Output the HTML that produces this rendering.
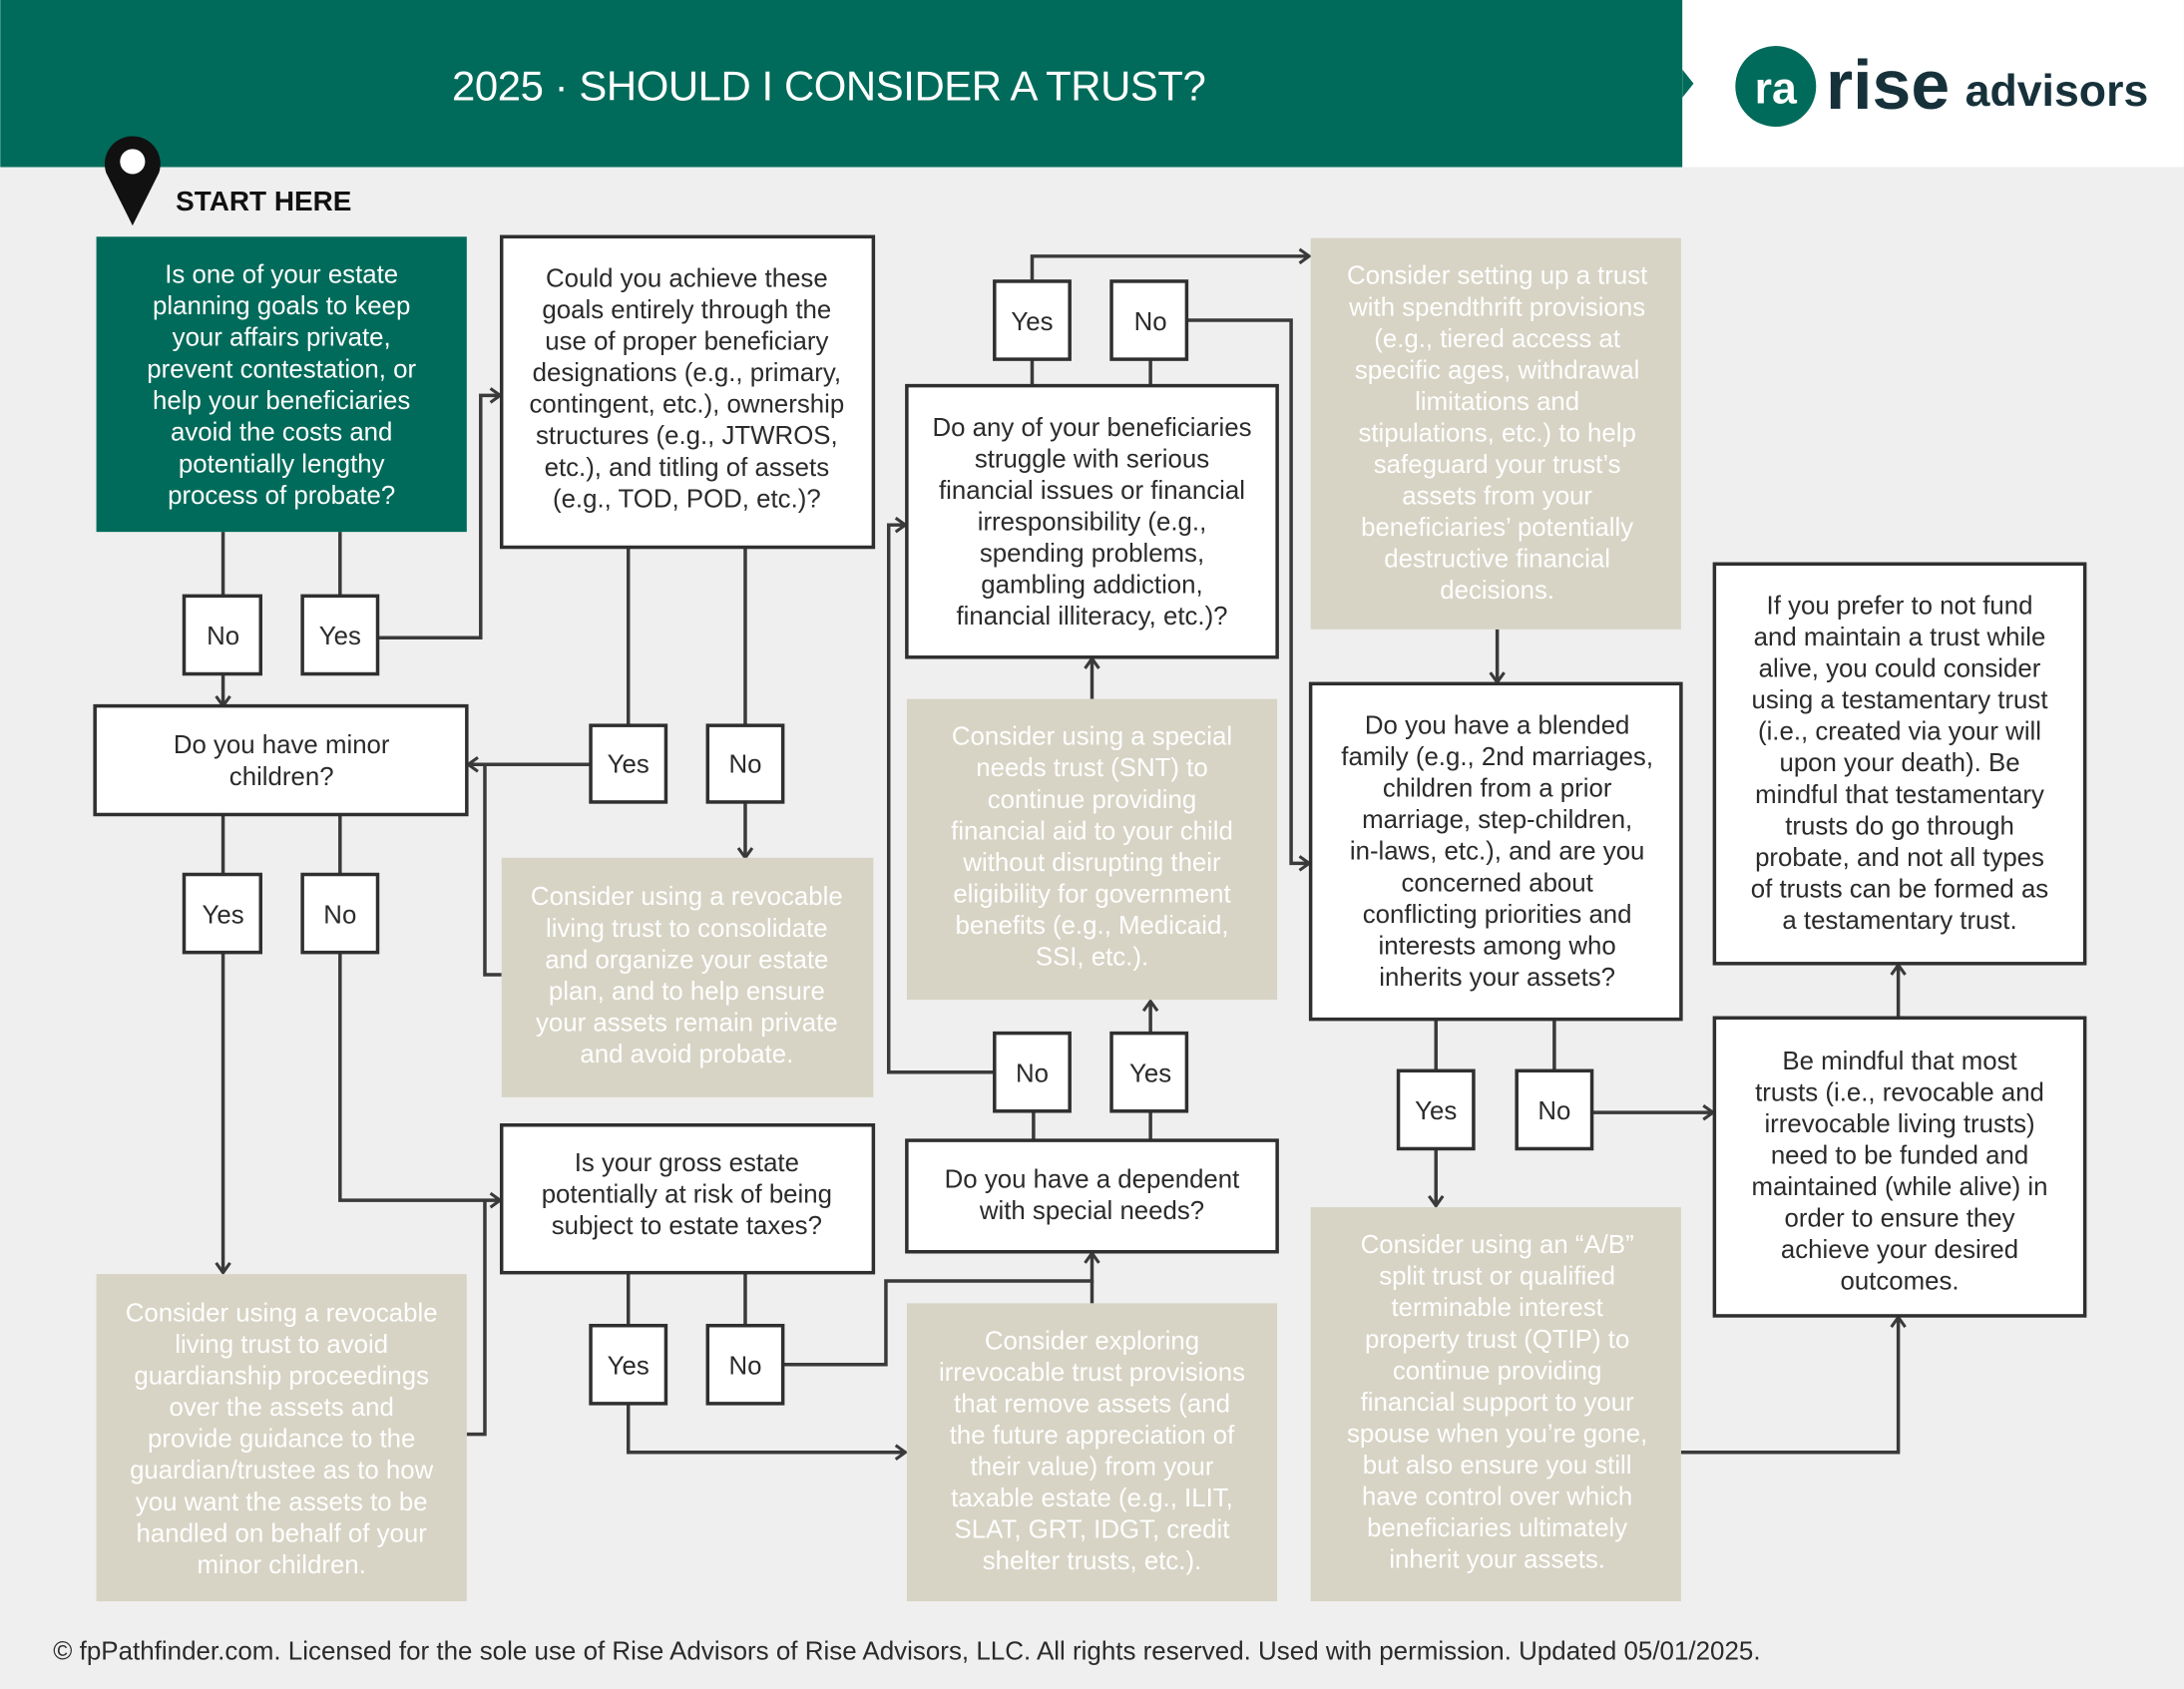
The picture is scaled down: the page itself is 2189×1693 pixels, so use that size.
<!DOCTYPE html>
<html><head><meta charset="utf-8"><style>
html,body{margin:0;padding:0;background:#efefef}
svg{display:block}
text{font-family:"Liberation Sans",sans-serif}
.t{font-size:18.5px;fill:#2b2b2b;text-anchor:middle}
.w{font-size:18.5px;fill:#fff;text-anchor:middle}
.b{fill:#fff;stroke:#2f2f2f;stroke-width:2.5}
.g{fill:#d7d4c5}
.l{fill:none;stroke:#3a3a3a;stroke-width:2.5}
</style></head><body>
<svg width="2189" height="1693" viewBox="0 0 1568 1213" xmlns="http://www.w3.org/2000/svg">
<defs><marker id="a" markerWidth="10" markerHeight="12" refX="8" refY="6" orient="auto" markerUnits="userSpaceOnUse"><path d="M1,1 L8,6 L1,11" fill="none" stroke="#3a3a3a" stroke-width="2.2"/></marker></defs>
<rect width="1568" height="1213" fill="#efefef"/>
<rect width="1208" height="120" fill="#006b5a"/>
<rect x="1208" width="360" height="120" fill="#fff"/>
<path d="M1208,50 L1216,60 L1208,70Z" fill="#006b5a"/>
<text x="595" y="72" style="font-size:30px;fill:#fff;text-anchor:middle;font-weight:normal;letter-spacing:-0.3px">2025 · SHOULD I CONSIDER A TRUST?</text>
<circle cx="1275" cy="62" r="29" fill="#006b5a"/>
<text x="1275" y="74" style="font-size:32px;fill:#fff;text-anchor:middle;font-weight:bold">ra</text>
<text x="1311" y="78" style="font-size:50px;fill:#17313a;font-weight:bold">rise</text>
<text x="1411" y="76" style="font-size:32px;fill:#17313a;font-weight:bold">advisors</text>
<path d="M95,162 L76,124 A20,20 0 1 1 114,124 Z" fill="#111"/><circle cx="95" cy="116" r="9" fill="#fff"/>
<text x="126" y="151" style="font-size:20px;font-weight:bold;fill:#111">START HERE</text>

<g class="l">
<path d="M160,382V428M244,382V428"/>
<path d="M160,484V507" marker-end="url(#a)"/>
<path d="M271,458H345V284H359" marker-end="url(#a)"/>
<path d="M160,585V628M244,585V628"/>
<path d="M160,684V914" marker-end="url(#a)"/>
<path d="M244,684V862H359" marker-end="url(#a)"/>
<path d="M451,393V521M535,393V521"/>
<path d="M424,549H336" marker-end="url(#a)"/>
<path d="M535,576V616" marker-end="url(#a)"/>
<path d="M360,700H348V549M335,1030H348V862"/>
<path d="M451,914V952M535,914V952"/>
<path d="M451,1008V1043H650" marker-end="url(#a)"/>
<path d="M562,980H636V920H784V900" marker-end="url(#a)"/>
<path d="M784,936V920"/>
<path d="M742,819V798M826,819V798"/>
<path d="M714,770H638V377H650" marker-end="url(#a)"/>
<path d="M826,742V719" marker-end="url(#a)"/>
<path d="M784,502V473" marker-end="url(#a)"/>
<path d="M741,277V258M826,277V258"/>
<path d="M741,202V184H940" marker-end="url(#a)"/>
<path d="M852,230H927V620H940" marker-end="url(#a)"/>
<path d="M1075,452V490" marker-end="url(#a)"/>
<path d="M1031,732V769M1116,732V769"/>
<path d="M1031,825V866" marker-end="url(#a)"/>
<path d="M1143,799H1230" marker-end="url(#a)"/>
<path d="M1207,1043H1363V946" marker-end="url(#a)"/>
<path d="M1363,731V693" marker-end="url(#a)"/>
</g>

<rect x="69" y="170" width="266" height="212" fill="#006b5a"/>
<text class="w"><tspan x="202" y="203">Is one of your estate</tspan><tspan x="202" dy="22.7">planning goals to keep</tspan><tspan x="202" dy="22.7">your affairs private,</tspan><tspan x="202" dy="22.7">prevent contestation, or</tspan><tspan x="202" dy="22.7">help your beneficiaries</tspan><tspan x="202" dy="22.7">avoid the costs and</tspan><tspan x="202" dy="22.7">potentially lengthy</tspan><tspan x="202" dy="22.7">process of probate?</tspan></text>

<g>
<rect class="b" x="132" y="428" width="55" height="56"/><text class="t" x="160" y="463">No</text>
<rect class="b" x="217" y="428" width="54" height="56"/><text class="t" x="244" y="463">Yes</text>
<rect class="b" x="68" y="507" width="267" height="78"/>
<text class="t"><tspan x="202" y="541">Do you have minor</tspan><tspan x="202" dy="22.7">children?</tspan></text>
<rect class="b" x="132" y="628" width="55" height="56"/><text class="t" x="160" y="663">Yes</text>
<rect class="b" x="217" y="628" width="54" height="56"/><text class="t" x="244" y="663">No</text>
<rect class="g" x="69" y="915" width="266" height="235"/>
<text class="w"><tspan x="202" y="949">Consider using a revocable</tspan><tspan x="202" dy="22.6">living trust to avoid</tspan><tspan x="202" dy="22.6">guardianship proceedings</tspan><tspan x="202" dy="22.6">over the assets and</tspan><tspan x="202" dy="22.6">provide guidance to the</tspan><tspan x="202" dy="22.6">guardian/trustee as to how</tspan><tspan x="202" dy="22.6">you want the assets to be</tspan><tspan x="202" dy="22.6">handled on behalf of your</tspan><tspan x="202" dy="22.6">minor children.</tspan></text>

<rect class="b" x="360" y="170" width="267" height="223"/>
<text class="t"><tspan x="493" y="206">Could you achieve these</tspan><tspan x="493" dy="22.6">goals entirely through the</tspan><tspan x="493" dy="22.6">use of proper beneficiary</tspan><tspan x="493" dy="22.6">designations (e.g., primary,</tspan><tspan x="493" dy="22.6">contingent, etc.), ownership</tspan><tspan x="493" dy="22.6">structures (e.g., JTWROS,</tspan><tspan x="493" dy="22.6">etc.), and titling of assets</tspan><tspan x="493" dy="22.6">(e.g., TOD, POD, etc.)?</tspan></text>
<rect class="b" x="424" y="521" width="54" height="55"/><text class="t" x="451" y="555">Yes</text>
<rect class="b" x="508" y="521" width="54" height="55"/><text class="t" x="535" y="555">No</text>
<rect class="g" x="360" y="616" width="267" height="172"/>
<text class="w"><tspan x="493" y="650">Consider using a revocable</tspan><tspan x="493" dy="22.6">living trust to consolidate</tspan><tspan x="493" dy="22.6">and organize your estate</tspan><tspan x="493" dy="22.6">plan, and to help ensure</tspan><tspan x="493" dy="22.6">your assets remain private</tspan><tspan x="493" dy="22.6">and avoid probate.</tspan></text>
<rect class="b" x="360" y="808" width="267" height="106"/>
<text class="t"><tspan x="493" y="841">Is your gross estate</tspan><tspan x="493" dy="22.6">potentially at risk of being</tspan><tspan x="493" dy="22.6">subject to estate taxes?</tspan></text>
<rect class="b" x="424" y="952" width="54" height="56"/><text class="t" x="451" y="987">Yes</text>
<rect class="b" x="508" y="952" width="54" height="56"/><text class="t" x="535" y="987">No</text>

<rect class="b" x="714" y="202" width="54" height="56"/><text class="t" x="741" y="237">Yes</text>
<rect class="b" x="798" y="202" width="54" height="56"/><text class="t" x="826" y="237">No</text>
<rect class="b" x="651" y="277" width="266" height="195"/>
<text class="t"><tspan x="784" y="313">Do any of your beneficiaries</tspan><tspan x="784" dy="22.6">struggle with serious</tspan><tspan x="784" dy="22.6">financial issues or financial</tspan><tspan x="784" dy="22.6">irresponsibility (e.g.,</tspan><tspan x="784" dy="22.6">spending problems,</tspan><tspan x="784" dy="22.6">gambling addiction,</tspan><tspan x="784" dy="22.6">financial illiteracy, etc.)?</tspan></text>
<rect class="g" x="651" y="502" width="266" height="216"/>
<text class="w"><tspan x="784" y="535">Consider using a special</tspan><tspan x="784" dy="22.6">needs trust (SNT) to</tspan><tspan x="784" dy="22.6">continue providing</tspan><tspan x="784" dy="22.6">financial aid to your child</tspan><tspan x="784" dy="22.6">without disrupting their</tspan><tspan x="784" dy="22.6">eligibility for government</tspan><tspan x="784" dy="22.6">benefits (e.g., Medicaid,</tspan><tspan x="784" dy="22.6">SSI, etc.).</tspan></text>
<rect class="b" x="714" y="742" width="54" height="56"/><text class="t" x="741" y="777">No</text>
<rect class="b" x="798" y="742" width="54" height="56"/><text class="t" x="826" y="777">Yes</text>
<rect class="b" x="651" y="819" width="266" height="80"/>
<text class="t"><tspan x="784" y="853">Do you have a dependent</tspan><tspan x="784" dy="22.6">with special needs?</tspan></text>
<rect class="g" x="651" y="936" width="266" height="214"/>
<text class="w"><tspan x="784" y="969">Consider exploring</tspan><tspan x="784" dy="22.6">irrevocable trust provisions</tspan><tspan x="784" dy="22.6">that remove assets (and</tspan><tspan x="784" dy="22.6">the future appreciation of</tspan><tspan x="784" dy="22.6">their value) from your</tspan><tspan x="784" dy="22.6">taxable estate (e.g., ILIT,</tspan><tspan x="784" dy="22.6">SLAT, GRT, IDGT, credit</tspan><tspan x="784" dy="22.6">shelter trusts, etc.).</tspan></text>

<rect class="g" x="941" y="171" width="266" height="281"/>
<text class="w"><tspan x="1075" y="204">Consider setting up a trust</tspan><tspan x="1075" dy="22.6">with spendthrift provisions</tspan><tspan x="1075" dy="22.6">(e.g., tiered access at</tspan><tspan x="1075" dy="22.6">specific ages, withdrawal</tspan><tspan x="1075" dy="22.6">limitations and</tspan><tspan x="1075" dy="22.6">stipulations, etc.) to help</tspan><tspan x="1075" dy="22.6">safeguard your trust’s</tspan><tspan x="1075" dy="22.6">assets from your</tspan><tspan x="1075" dy="22.6">beneficiaries’ potentially</tspan><tspan x="1075" dy="22.6">destructive financial</tspan><tspan x="1075" dy="22.6">decisions.</tspan></text>
<rect class="b" x="941" y="491" width="266" height="241"/>
<text class="t"><tspan x="1075" y="527">Do you have a blended</tspan><tspan x="1075" dy="22.6">family (e.g., 2nd marriages,</tspan><tspan x="1075" dy="22.6">children from a prior</tspan><tspan x="1075" dy="22.6">marriage, step-children,</tspan><tspan x="1075" dy="22.6">in-laws, etc.), and are you</tspan><tspan x="1075" dy="22.6">concerned about</tspan><tspan x="1075" dy="22.6">conflicting priorities and</tspan><tspan x="1075" dy="22.6">interests among who</tspan><tspan x="1075" dy="22.6">inherits your assets?</tspan></text>
<rect class="b" x="1004" y="769" width="54" height="56"/><text class="t" x="1031" y="804">Yes</text>
<rect class="b" x="1089" y="769" width="54" height="56"/><text class="t" x="1116" y="804">No</text>
<rect class="g" x="941" y="867" width="266" height="283"/>
<text class="w"><tspan x="1075" y="900">Consider using an “A/B”</tspan><tspan x="1075" dy="22.6">split trust or qualified</tspan><tspan x="1075" dy="22.6">terminable interest</tspan><tspan x="1075" dy="22.6">property trust (QTIP) to</tspan><tspan x="1075" dy="22.6">continue providing</tspan><tspan x="1075" dy="22.6">financial support to your</tspan><tspan x="1075" dy="22.6">spouse when you’re gone,</tspan><tspan x="1075" dy="22.6">but also ensure you still</tspan><tspan x="1075" dy="22.6">have control over which</tspan><tspan x="1075" dy="22.6">beneficiaries ultimately</tspan><tspan x="1075" dy="22.6">inherit your assets.</tspan></text>

<rect class="b" x="1231" y="405" width="266" height="287"/>
<text class="t"><tspan x="1364" y="441">If you prefer to not fund</tspan><tspan x="1364" dy="22.6">and maintain a trust while</tspan><tspan x="1364" dy="22.6">alive, you could consider</tspan><tspan x="1364" dy="22.6">using a testamentary trust</tspan><tspan x="1364" dy="22.6">(i.e., created via your will</tspan><tspan x="1364" dy="22.6">upon your death). Be</tspan><tspan x="1364" dy="22.6">mindful that testamentary</tspan><tspan x="1364" dy="22.6">trusts do go through</tspan><tspan x="1364" dy="22.6">probate, and not all types</tspan><tspan x="1364" dy="22.6">of trusts can be formed as</tspan><tspan x="1364" dy="22.6">a testamentary trust.</tspan></text>
<rect class="b" x="1231" y="731" width="266" height="214"/>
<text class="t"><tspan x="1364" y="768">Be mindful that most</tspan><tspan x="1364" dy="22.6">trusts (i.e., revocable and</tspan><tspan x="1364" dy="22.6">irrevocable living trusts)</tspan><tspan x="1364" dy="22.6">need to be funded and</tspan><tspan x="1364" dy="22.6">maintained (while alive) in</tspan><tspan x="1364" dy="22.6">order to ensure they</tspan><tspan x="1364" dy="22.6">achieve your desired</tspan><tspan x="1364" dy="22.6">outcomes.</tspan></text>
</g>
<text x="38" y="1192" style="font-size:18.6px;fill:#2b2b2b">© fpPathfinder.com. Licensed for the sole use of Rise Advisors of Rise Advisors, LLC. All rights reserved. Used with permission. Updated 05/01/2025.</text>
</svg>
</body></html>
